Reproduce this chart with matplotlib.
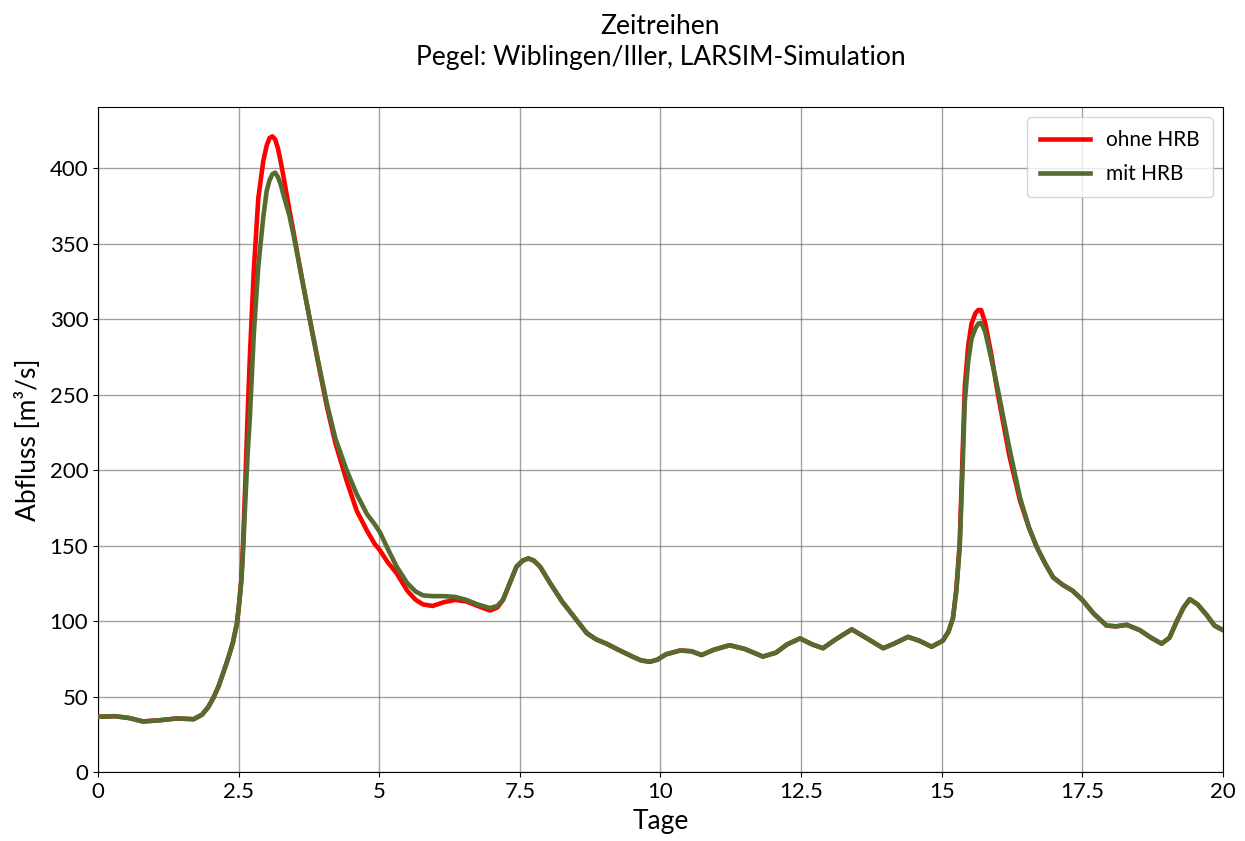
import matplotlib
matplotlib.use("Agg")
import matplotlib.pyplot as plt
from matplotlib.ticker import FuncFormatter, MultipleLocator

plt.rcParams['font.family'] = ['Lato', 'DejaVu Sans']

# Zeitachse in Tagen
tage = [0, 0.3, 0.55, 0.8, 1.1, 1.4, 1.7, 1.85, 1.96, 2.05, 2.14, 2.23, 2.32, 2.4,
        2.47, 2.5, 2.55, 2.58, 2.62, 2.66, 2.7, 2.77, 2.85, 2.94, 3.0, 3.05, 3.1,
        3.15, 3.2, 3.25, 3.3, 3.4, 3.47, 3.62, 3.77, 3.92, 4.07, 4.22, 4.42, 4.6,
        4.78, 4.92, 5.01, 5.15, 5.31, 5.5, 5.65, 5.78, 5.95, 6.15, 6.35, 6.55, 6.75,
        6.97, 7.1, 7.2, 7.32, 7.44, 7.55, 7.65, 7.75, 7.86, 8.04, 8.25, 8.5, 8.69,
        8.85, 9.04, 9.25, 9.5, 9.65, 9.81, 9.95, 10.1, 10.35, 10.55, 10.73, 10.95,
        11.23, 11.5, 11.82, 12.05, 12.25, 12.48, 12.7, 12.89, 13.1, 13.4, 13.65,
        13.96, 14.15, 14.4, 14.6, 14.82, 15.02, 15.12, 15.2, 15.26, 15.32, 15.37,
        15.41, 15.47, 15.53, 15.6, 15.65, 15.7, 15.77, 15.88, 16.0, 16.2, 16.39,
        16.55, 16.69, 16.84, 16.98, 17.15, 17.33, 17.5, 17.7, 17.93, 18.1, 18.29,
        18.52, 18.72, 18.91, 19.05, 19.18, 19.3, 19.41, 19.55, 19.71, 19.85, 20.0]

# Abfluss mit Hochwasserrueckhaltebecken [m3/s]
mit_hrb = [36.6, 37, 35.8, 33.5, 34.3, 35.5, 35, 38, 43, 49, 56.5, 66, 76, 86,
           98.5, 108, 127, 147, 180, 210, 235, 290, 335, 368, 385, 392, 396,
           397, 394, 389, 382, 369, 357, 328, 299, 271, 244, 221, 200, 184,
           171, 164, 159, 148, 136, 125, 119.5, 117, 116.5, 116.5, 116, 114, 111,
           108.6, 110, 114, 125, 136, 140, 141.5, 140, 136, 125, 113, 101, 92,
           88, 85, 81, 76.5, 74, 73, 74.5, 78, 80.5, 80, 77.5, 81,
           84, 81.5, 76.5, 79, 84.5, 88.5, 84.5, 82, 87.5, 94.5, 89,
           82, 85, 89.5, 87, 83, 87, 93, 102, 120, 149, 200,
           245, 272, 287, 294, 297, 297.5, 292, 274, 253, 215, 182,
           162, 149, 138, 129, 124, 120, 114, 105, 97, 96.5, 97.5,
           94, 89, 85, 89, 100, 109, 114.5, 111, 104, 97, 94]

# Abfluss ohne Hochwasserrueckhaltebecken [m3/s]
ohne_hrb = [36.6, 37, 35.8, 33.5, 34.3, 35.5, 35, 38, 43, 49, 56.5, 66, 76, 86,
            98.5, 108, 128, 152, 192, 236, 275, 332, 380, 405, 415, 420, 421,
            419, 413, 404, 394, 373, 359, 328, 299, 270, 242, 218, 193, 173,
            160, 151, 147, 139, 131.6, 120, 114, 111, 110, 112.5, 114, 113, 110,
            107, 109, 114, 125, 136, 140, 141.5, 140, 136, 125, 113, 101, 92,
            88, 85, 81, 76.5, 74, 73, 74.5, 78, 80.5, 80, 77.5, 81,
            84, 81.5, 76.5, 79, 84.5, 88.5, 84.5, 82, 87.5, 94.5, 89,
            82, 85, 89.5, 87, 83, 87, 93, 102, 121, 152, 210,
            255, 282, 297, 304, 306, 306, 298, 277, 250, 210, 180,
            162, 149, 138, 129, 124, 120, 114, 105, 97, 96.5, 97.5,
            94, 89, 85, 89, 100, 109, 114.5, 111, 104, 97, 94]

fig = plt.figure(figsize=(12.45, 8.41), dpi=100)
ax = fig.add_axes([0.0787, 0.082, 0.9036, 0.7908])

ax.plot(tage, ohne_hrb, color='#ff0000', lw=3.3, label='ohne HRB', zorder=3,
        solid_joinstyle='round')
ax.plot(tage, mit_hrb, color='#556b2f', lw=3.3, label='mit HRB', zorder=4,
        solid_joinstyle='round')

ax.set_xlim(0, 20)
ax.set_ylim(0, 440.5)
ax.xaxis.set_major_locator(MultipleLocator(2.5))
ax.yaxis.set_major_locator(MultipleLocator(50))
ax.xaxis.set_major_formatter(FuncFormatter(lambda v, p: f"{v:g}"))
ax.tick_params(labelsize=16)
ax.grid(True, color='#555555', alpha=0.55, lw=1.0)

ax.set_xlabel('Tage', fontsize=19, labelpad=5)
ax.set_ylabel('Abfluss [m³/s]', fontsize=19, labelpad=6)
ax.set_title('Zeitreihen\nPegel: Wiblingen/Iller, LARSIM-Simulation',
             fontsize=19, pad=30, linespacing=1.3)

ax.legend(loc='upper right', fontsize=15, framealpha=0.8, labelspacing=0.7,
          handlelength=2.4, borderpad=0.6)

fig.savefig('out.png', dpi=100)
